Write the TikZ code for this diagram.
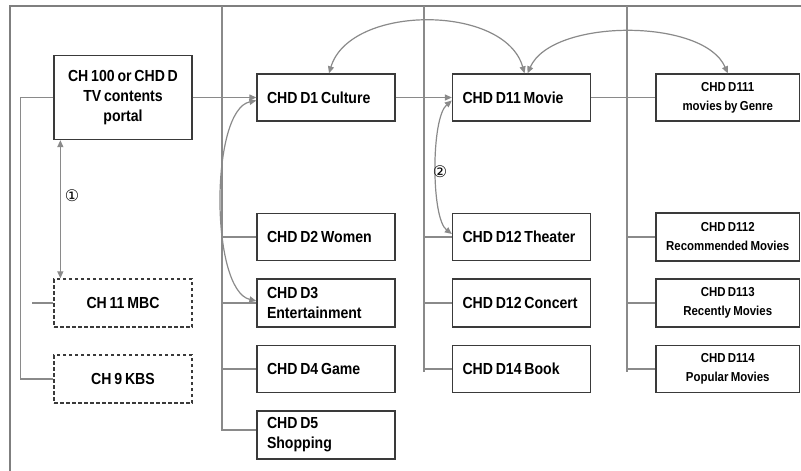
\documentclass[tikz,border=0pt]{standalone}
\usepackage{fontspec}
\setmainfont{Liberation Sans}[FakeStretch=0.88, WordSpace=0.72]
\newfontfamily\circfont{DejaVu Sans}
\usetikzlibrary{arrows.meta,calc}
\definecolor{boxline}{HTML}{3A3A3A}
\definecolor{linkgray}{HTML}{8A8A8A}
\definecolor{framegray}{HTML}{7F7F7F}
\tikzset{
  box/.style={draw=boxline, line width=1.3pt, fill=white, minimum width=138pt,
    minimum height=47pt, inner sep=0pt, text=black,
    font=\bfseries\fontsize{16}{20}\selectfont},
  lbox/.style={box, align=flush left, text width=118pt},
  cbox/.style={box, align=center},
  dbox/.style={cbox, dash pattern=on 3.5pt off 2.5pt},
  sbox/.style={box, align=center, minimum width=143.5pt,
    font=\bfseries\fontsize{13}{19}\selectfont},
  link/.style={draw=linkgray, line width=1.2pt},
  frameline/.style={draw=framegray, line width=1.5pt},
  tip/.tip={Triangle[length=7pt,width=6pt]},
  onearrow/.style={link, -tip},
  twoarrow/.style={link, tip-tip},
  numlabel/.style={font=\circfont\fontsize{16}{16}\selectfont, text=black, inner sep=0pt}
}
\begin{document}
\begin{tikzpicture}[x=1pt,y=-1pt]
\useasboundingbox (0,0) rectangle (801,471);

% outer frame and column rules
\draw[frameline] (10,471) -- (10,6) -- (801,6);
\coordinate (c2) at (222,6);
\coordinate (c3) at (424,6);
\coordinate (c4) at (627,6);

% level 0: portal and broadcast channels
\node[cbox, minimum height=84pt] (p) at (123,97.5) {CH 100 or CHD D\\TV contents\\portal};
\node[dbox, minimum height=48pt] (mbc) at (123,303) {CH 11 MBC};
\node[dbox, minimum height=48pt] (kbs) at (123,379) {CH 9 KBS};

% level 1: categories
\node[lbox] (d1) at (326,97.5) {CHD D1 Culture};
\node[lbox] (d2) at (326,237) {CHD D2 Women};
\node[lbox, minimum height=48pt] (d3) at (326,303) {CHD D3\\Entertainment};
\node[lbox] (d4) at (326,369) {CHD D4 Game};
\node[lbox, minimum height=48pt] (d5) at (326,435) {CHD D5\\Shopping};

% level 2: culture subcategories
\node[lbox] (d11) at (521.5,97.5) {CHD D11 Movie};
\node[lbox] (d12) at (521.5,237) {CHD D12 Theater};
\node[lbox, minimum height=48pt] (d12c) at (521.5,303) {CHD D12 Concert};
\node[lbox] (d14) at (521.5,369) {CHD D14 Book};

% level 3: movie listings
\node[sbox] (d111) at (727.75,97.5) {CHD D111\\movies by Genre};
\node[sbox, minimum height=48pt] (d112) at (727.75,237) {CHD D112\\Recommended Movies};
\node[sbox, minimum height=48pt] (d113) at (727.75,303) {CHD D113\\Recently Movies};
\node[sbox] (d114) at (727.75,369) {CHD D114\\Popular Movies};

% tree connectors
\draw[link] (p.west) -- ++(-33,0) |- (kbs.west);
\draw[link] (mbc.west) -- ++(-21,0);

\draw[link] (c2) |- ([yshift=5pt]d5.west);
\draw[link] (c2 |- d2.west) -- (d2.west);
\draw[link] (c2 |- d3.west) -- (d3.west);
\draw[link] (c2 |- d4.west) -- (d4.west);

\draw[link] (c3) -- ($(c3 |- d14.west)+(0,3)$);
\draw[link] (c3 |- d12.west) -- (d12.west);
\draw[link] (c3 |- d12c.west) -- (d12c.west);
\draw[link] (c3 |- d14.west) -- (d14.west);

\draw[link] (c4) -- ($(c4 |- d114.west)+(0,3)$);
\draw[link] (c4 |- d112.west) -- (d112.west);
\draw[link] (c4 |- d113.west) -- (d113.west);
\draw[link] (c4 |- d114.west) -- (d114.west);

\draw[onearrow] (p.east) -- (d1.west);
\draw[onearrow] (d1.east) -- (d11.west);
\draw[link] (d11.east) -- (d111.west);

% navigation arcs
\draw[twoarrow] ([xshift=3pt]d1.north) .. controls (350,4) and (505,4) .. ([xshift=3pt]d11.north);
\draw[twoarrow] ([xshift=6pt]d11.north) .. controls (552,18) and (704,18) .. (d111.north);
\draw[twoarrow] ([yshift=-3pt]d1.west) .. controls (210,110) and (210,290) .. ([yshift=2pt]d3.west);
\draw[twoarrow] ([yshift=-3pt]d11.west) .. controls (431,118) and (431,218) .. ([yshift=3pt]d12.west);
\draw[twoarrow] ([xshift=7pt]p.south west) -- ([xshift=7pt]mbc.north west);

% step markers
\node[numlabel] (n1) at (72,196) {①};
\node[numlabel] (n2) at (440,172) {②};
\end{tikzpicture}
\end{document}
